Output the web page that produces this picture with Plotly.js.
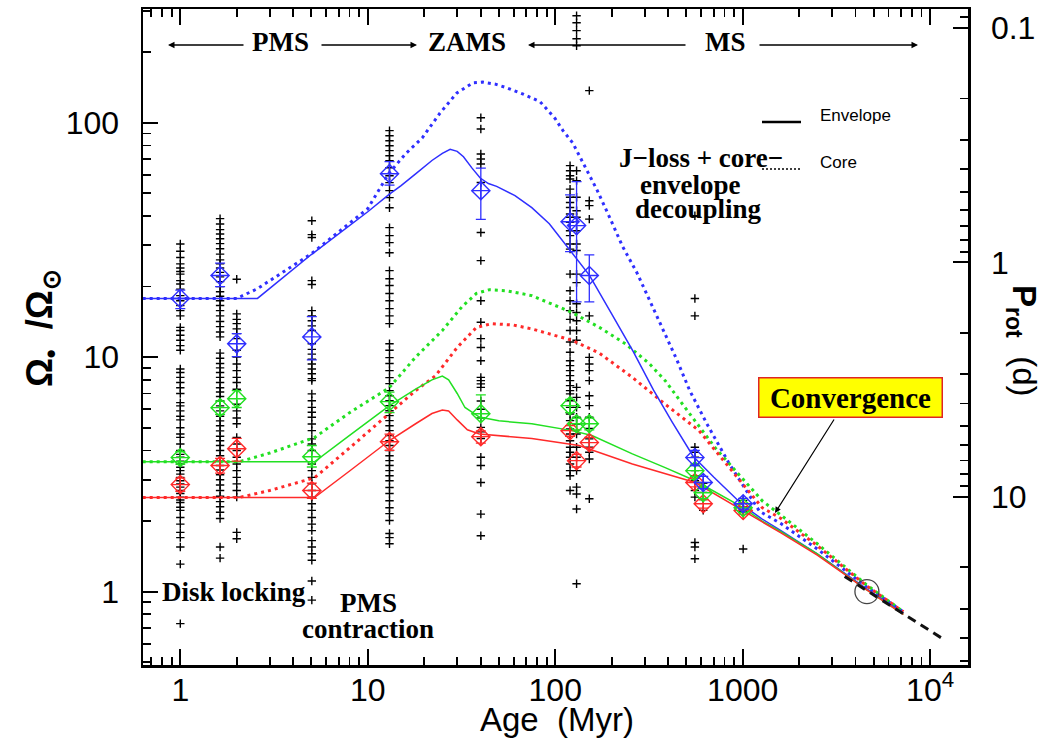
<!DOCTYPE html>
<html><head><meta charset="utf-8">
<script src="https://cdn.plot.ly/plotly-3.0.1.min.js"></script>
<style>html,body{margin:0;padding:0;background:#fff;}#chart{width:1057px;height:747px;}</style>
</head><body><div id="chart"></div>
<script>
// ---------------- data ----------------
// cluster ages (Myr) for the individual stars (crosses)
const crossAges = [1, 1.63, 2.0, 5.03, 13.06, 40.1, 120, 130, 152, 556, 616, 1006];
const cross_1 = [30.4, 28.3, 26.6, 25, 24, 23.2, 22.6, 21.2, 20.5, 19.5, 18.3, 17.4, 16.6, 15.8, 15.0, 13.4, 13.0, 12.4, 11.8, 11.2, 10.7, 8.9, 8.6, 8.2, 7.8, 7.4, 7.0, 6.4, 6.2, 5.9, 5.6, 5.4, 5.0, 4.7, 4.55, 4.26, 4.0, 3.85, 3.74, 3.6, 3.5, 3.39, 3.28, 3.17, 3.07, 2.97, 2.88, 2.79, 2.70, 2.62, 2.53, 2.46, 2.40, 2.29, 2.22, 2.07, 1.94, 1.79, 1.70, 1.55, 1.31, 0.73];
const cross_1p6 = [39, 37, 35, 33.5, 32, 30.5, 29, 27.5, 26, 25, 24, 23, 22, 21, 20, 19, 18.2, 17.4, 16.6, 15.8, 15, 14.2, 13.5, 12.8, 12.2, 10.4, 9.9, 9.4, 9.0, 8.6, 8.2, 7.8, 7.4, 7.1, 6.8, 6.5, 6.2, 5.9, 5.6, 5.35, 5.1, 4.85, 4.6, 4.4, 4.2, 4.0, 3.8, 3.6, 3.45, 3.3, 3.15, 3.0, 2.85, 2.7, 2.55, 2.42, 2.3, 2.18, 2.05, 1.55, 1.39];
const cross_2 = [21.5, 15.3, 14.5, 13.9, 13.2, 12.6, 12.0, 10.7, 10.0, 9.35, 8.76, 8.2, 7.8, 7.3, 6.3, 5.9, 5.5, 5.2, 4.55, 4.26, 4.0, 3.74, 3.5, 3.28, 3.07, 2.88, 2.70, 2.53, 1.79, 1.68];
const cross_5 = [38.2, 33.3, 32.4, 21.2, 20.4, 15.8, 15.0, 14.3, 13.6, 13.0, 11.4, 10.8, 10.3, 9.8, 9.35, 8.9, 8.5, 8.1, 7.94, 6.97, 6.52, 6.11, 5.82, 5.54, 5.19, 4.86, 4.48, 4.26, 4.0, 3.5, 3.28, 3.07, 2.88, 2.70, 2.53, 2.37, 2.22, 2.07, 1.94, 1.82, 1.65, 1.55, 1.45, 1.36, 1.11, 0.92];
const cross_13 = [92.5, 88, 83.8, 79.8, 76, 72.3, 68.9, 64.3, 59.4, 55.5, 51.3, 47.9, 43.4, 35.7, 33, 30.8, 27.9, 23.4, 21.6, 20.2, 18.7, 17.4, 16.1, 15.0, 13.9, 11.4, 10.7, 9.95, 9.4, 8.76, 8.18, 7.71, 7.2, 6.85, 6.52, 6.21, 5.91, 5.63, 5.36, 5.1, 4.86, 4.63, 4.4, 4.2, 4.0, 3.8, 3.62, 3.45, 3.28, 3.12, 2.97, 2.78, 2.62, 2.44, 2.28, 2.15, 2.01, 1.77, 1.70, 1.60];
const cross_40 = [105, 94, 73.5, 70, 66.7, 55.6, 34, 25.8, 17.4, 14.1, 12.0, 11.0, 9.66, 8.2, 7.94, 7.69, 7.43, 6.5, 6.0, 5.5, 5.02, 4.8, 4.5, 3.74, 3.45, 2.92, 2.14, 1.73];
const cross_120 = [65.6, 62.4, 59.4, 57.5, 52.1, 48.1, 45.7, 43.5, 40.8, 39.5, 37.6, 34.6, 33, 30.4, 28.9, 22.6, 19.2, 17.4, 15.8, 14.5, 13.0, 11.6, 10.5, 9.66, 9.2, 8.76, 8.34, 7.94, 7.56, 7.2, 6.97, 6.52, 6.11, 5.72, 5.36, 4.94, 4.70, 4.4, 4.13, 3.93, 3.74, 3.5, 3.28, 3.12, 2.70];
const cross_130 = [286, 267, 247, 228, 213, 62.4, 56.6, 48.1, 42.1, 39.5, 34.6, 30.4, 28.5, 22.6, 20.8, 16.9, 15.5, 14.3, 13.0, 11.8, 7.43, 6.74, 6.11, 5.54, 5.19, 4.70, 4.13, 3.74, 3.28, 2.79, 2.61, 2.25, 1.08];
const cross_150 = [137, 46.5, 44.3, 38.8, 15.0, 9.98, 9.35, 8.76, 7.94, 6.85, 6.21, 5.54, 4.97, 4.48, 4.13, 3.93, 3.68, 2.49];
const cross_550 = [40.1, 17.8, 15.0, 4.13, 3.93, 3.74, 3.5, 3.28, 3.12, 2.97, 2.70, 2.53, 1.62, 1.55, 1.38];
const cross_600 = [2.9, 2.65, 2.47, 2.22];
const cross_1000 = [2.45, 2.3, 2.2, 1.52];
const crossSets = [cross_1, cross_1p6, cross_2, cross_5, cross_13, cross_40, cross_120, cross_130, cross_150, cross_550, cross_600, cross_1000];

// percentile diamonds (90th = blue, median = green, 25th = red)
const pctAges = [1, 1.63, 2.0, 5.03, 13.06, 40.1, 120, 130, 152, 556, 616, 1006];
const blueOm = [17.8, 22.3, 11.4, 12.2, 60.6, 51.3, 37.8, 36.4, 22.3, 3.73, 2.92, 2.37];
const blueHi = [19.3, 25.2, 12.6, 14.9, 68.2, 64, 49.2, 56.1, 27.3, 4.0, 3.1, 2.5];
const blueLo = [16.1, 20.0, 10.05, 9.73, 54.2, 38.7, 28.2, 17.2, 17.2, 3.45, 2.75, 2.25];
const greenOm = [3.73, 6.09, 6.65, 3.76, 6.46, 5.74, 6.21, 5.2, 5.2, 3.28, 2.64, 2.28];
const greenHi = [3.95, 6.5, 7.2, 4.2, 7.1, 6.9, 6.6, 5.5, 5.5, 3.45, 2.78, 2.38];
const greenLo = [3.5, 5.7, 6.1, 3.4, 5.8, 5.5, 5.8, 4.9, 4.9, 3.1, 2.5, 2.18];
const redOm = [2.86, 3.45, 4.07, 2.70, 4.36, 4.58, 4.86, 3.62, 4.32, 2.92, 2.37, 2.22];
const redHi = [3.05, 3.7, 4.5, 2.9, 4.7, 4.85, 5.1, 3.85, 4.55, 3.05, 2.47, 2.3];
const redLo = [2.68, 3.2, 3.6, 2.5, 4.0, 4.3, 4.6, 3.4, 4.1, 2.8, 2.27, 2.14];

// model curves: envelope (solid) and core (dotted)
const blueEnvAge = [0.63, 2.58, 5, 10, 13, 15, 18, 22, 25, 27.5, 30, 32.4, 36, 39.8, 44, 48.7, 61, 75, 93, 113, 130, 152, 200, 260, 334, 420, 545, 700, 1006, 1271, 1600, 2500, 4570, 7200];
const blueEnvOm = [17.8, 17.8, 27.4, 41.7, 49.5, 53.8, 60.5, 69, 74, 77, 75.5, 71.6, 64, 58.1, 55, 53.5, 48.9, 43.4, 37.1, 30.5, 26.5, 22.4, 15.3, 10.6, 7.25, 5.3, 3.77, 3.08, 2.33, 2.04, 1.82, 1.45, 1.03, 0.81];
const blueCoreAge = [0.63, 2.0, 2.58, 5, 10, 13, 16, 19.5, 24.3, 29.9, 36.5, 41, 48, 55, 68, 83, 100, 110, 124, 135, 150, 167, 195, 229, 273, 318, 377, 444, 522, 644, 850, 1230, 1600, 2500, 4570, 7200];
const blueCoreOm = [17.8, 17.8, 19.6, 27.6, 43, 61, 74, 86, 110, 134, 148, 149, 146, 141, 132, 123, 104, 92.5, 82, 71.6, 61, 51.7, 39.5, 29.6, 22.9, 17.5, 13.1, 9.8, 7.2, 5.2, 3.5, 2.2, 1.95, 1.52, 1.05, 0.82];
const greenEnvAge = [0.63, 5.2, 8, 13, 18, 22, 25, 27, 30, 33, 39.4, 50, 75, 123, 157, 258, 386, 558, 1006, 1271, 1600, 2500, 4570, 7200];
const greenEnvOm = [3.58, 3.58, 4.64, 6.2, 7.3, 8.0, 8.3, 8.0, 7.0, 6.1, 5.55, 5.35, 5.2, 4.86, 4.63, 3.87, 3.38, 2.97, 2.28, 2.0, 1.8, 1.45, 1.02, 0.8];
const greenCoreAge = [0.63, 2.06, 3, 5.2, 8, 13, 18, 25, 32, 38, 44.5, 55, 75, 123, 172, 237, 317, 386, 500, 715, 1000, 1271, 1600, 2500, 4570, 7200];
const greenCoreOm = [3.58, 3.58, 3.9, 4.54, 5.8, 7.4, 10, 13, 16.5, 18.7, 19.4, 19.2, 18.3, 15.5, 13.4, 11.4, 9.4, 7.94, 6.0, 4.1, 3.03, 2.44, 2.12, 1.6, 1.07, 0.82];
const redEnvAge = [0.63, 5.2, 8, 13, 18, 22, 25, 27, 30, 34, 39.4, 75, 134, 258, 558, 1006, 1271, 1600, 2500, 4570, 7200];
const redEnvOm = [2.52, 2.52, 3.27, 4.4, 5.2, 5.75, 5.95, 5.9, 5.4, 4.9, 4.7, 4.5, 4.2, 3.5, 2.92, 2.22, 1.98, 1.78, 1.43, 1.02, 0.8];
const redCoreAge = [0.63, 2.06, 3, 5.2, 8, 13, 18, 23, 30, 38, 46, 60, 75, 123, 172, 258, 386, 585, 1000, 1271, 1600, 2500, 4570, 7200];
const redCoreOm = [2.52, 2.52, 2.7, 3.06, 4.1, 5.74, 7.2, 8.34, 11, 13.4, 13.9, 13.7, 13.2, 11.8, 10.4, 8.2, 6.3, 4.86, 2.88, 2.28, 2.05, 1.57, 1.06, 0.82];
const extAge = [3500, 11500];
const extOm = [1.16, 0.634];
const sunAge = [4600];
const sunOm = [1.0];

// axis ticks
const xTickVals = [1, 10, 100, 1000, 10000];
const xTickText = ['1', '10', '100', '1000', '10<sup>4</sup>'];
const yTickVals = [1, 10, 100];
const yTickText = ['1', '10', '100'];
const pTickVals = [0.1, 1, 10];
const pTickText = ['0.1', '1', '10'];
const P_SUN = 25.38; // Prot(d) = P_SUN / (Omega/Omega_sun)

// ---------------- layout geometry ----------------
const W = 1057, H = 747, ML = 143, MR = 89, MT = 9, MB = 82;
const PW = W - ML - MR, PH = H - MT - MB;
const X_RANGE = [-0.199, 4.202];
const Y_RANGE = [-0.313, 2.485];
const P_RANGE = [Math.log10(P_SUN) - Y_RANGE[0], Math.log10(P_SUN) - Y_RANGE[1]];
const fx = p => (p - ML) / PW;
const fy = p => (H - MB - p) / PH;

function minorTicks(lo, hi) {
  const out = [];
  for (let e = -2; e <= 5; e++) for (let d = 2; d <= 9; d++) {
    const v = +(d * Math.pow(10, e)).toPrecision(3);
    if (v > lo && v < hi) out.push(v);
  }
  return out;
}

const SANS = 'Liberation Sans, Arial, sans-serif';
const SERIF = 'Liberation Serif, Times New Roman, serif';
const BLUE = '#2f2fff', GREEN = '#22e022', RED = '#ff2a2a';

// ---------------- traces ----------------
const traces = [];
const cx = [], cy = [];
crossSets.forEach((set, i) => set.forEach(v => { cx.push(crossAges[i]); cy.push(v); }));
traces.push({x: cx, y: cy, mode: 'markers', type: 'scatter',
  marker: {symbol: 'cross-thin', size: 6, line: {color: '#000', width: 1.4}}, hoverinfo: 'skip'});

function curve(ax, ay, color, dotted) {
  return {x: ax, y: ay, mode: 'lines', type: 'scatter', hoverinfo: 'skip',
    line: dotted ? {color: color, width: 3, dash: '3px,4px'} : {color: color, width: 1.5}};
}
traces.push(curve(blueCoreAge, blueCoreOm, BLUE, true));
traces.push(curve(greenCoreAge, greenCoreOm, GREEN, true));
traces.push(curve(redCoreAge, redCoreOm, RED, true));
traces.push(curve(blueEnvAge, blueEnvOm, BLUE, false));
traces.push(curve(greenEnvAge, greenEnvOm, GREEN, false));
traces.push(curve(redEnvAge, redEnvOm, RED, false));
traces.push({x: extAge, y: extOm, mode: 'lines', type: 'scatter', hoverinfo: 'skip',
  line: {color: '#111', width: 3, dash: '9px,6px'}});

function pct(om, hi, lo, color) {
  return {x: pctAges, y: om, mode: 'markers', type: 'scatter', hoverinfo: 'skip',
    marker: {symbol: 'diamond-cross-open', size: 14, color: color, line: {color: color, width: 1.4}},
    error_y: {type: 'data', symmetric: false, array: hi.map((h, i) => h - om[i]),
      arrayminus: lo.map((l, i) => om[i] - l), color: color, thickness: 1.3, width: 5}};
}
traces.push(pct(redOm, redHi, redLo, RED));
traces.push(pct(greenOm, greenHi, greenLo, GREEN));
traces.push(pct(blueOm, blueHi, blueLo, BLUE));
traces.push({x: sunAge, y: sunOm, mode: 'markers', type: 'scatter', hoverinfo: 'skip',
  marker: {symbol: 'circle-open', size: 24, color: '#444', line: {color: '#444', width: 1.3}}});

// dummy traces so overlay axes (minor ticks, period axis) are drawn
[['x2', 'y'], ['x', 'y2'], ['x', 'y3'], ['x', 'y4']].forEach(([xa, ya]) =>
  traces.push({x: [1], y: [1], xaxis: xa, yaxis: ya, mode: 'markers', type: 'scatter',
    marker: {opacity: 0}, hoverinfo: 'skip'}));

// ---------------- layout ----------------
const tickFont = {family: SANS, size: 32, color: '#000'};
const baseAx = {showgrid: false, zeroline: false, ticks: 'inside', tickcolor: '#000', tickwidth: 2};
const layout = {
  width: W, height: H, autosize: false, showlegend: false,
  margin: {l: ML, r: MR, t: MT, b: MB, pad: 0},
  paper_bgcolor: '#fff', plot_bgcolor: '#fff',
  xaxis: Object.assign({}, baseAx, {type: 'log', range: X_RANGE, tickmode: 'array',
    tickvals: xTickVals, ticktext: xTickText, ticklen: 16, showline: true, linewidth: 2.5,
    linecolor: '#000', mirror: 'ticks', tickfont: tickFont, ticklabelstandoff: -5}),
  xaxis2: Object.assign({}, baseAx, {type: 'log', range: X_RANGE, overlaying: 'x', anchor: 'y',
    tickmode: 'array', tickvals: minorTicks(0.63, 15900), ticklen: 8, tickwidth: 1.8,
    showline: false, mirror: 'ticks', showticklabels: false}),
  yaxis: Object.assign({}, baseAx, {type: 'log', range: Y_RANGE, tickmode: 'array',
    tickvals: yTickVals, ticktext: yTickText, ticklen: 15, showline: true, linewidth: 2.5,
    linecolor: '#000', tickfont: tickFont, ticklabelstandoff: 15}),
  yaxis3: Object.assign({}, baseAx, {type: 'log', range: Y_RANGE, overlaying: 'y', side: 'left',
    anchor: 'x', tickmode: 'array', tickvals: minorTicks(0.487, 305), ticklen: 8, tickwidth: 1.8,
    showline: false, showticklabels: false}),
  yaxis2: Object.assign({}, baseAx, {type: 'log', range: P_RANGE, overlaying: 'y', side: 'right',
    anchor: 'x', tickmode: 'array', tickvals: pTickVals, ticktext: pTickText, ticklen: 15,
    showline: true, linewidth: 2.5, linecolor: '#000', tickfont: tickFont, ticklabelstandoff: 14}),
  yaxis4: Object.assign({}, baseAx, {type: 'log', range: P_RANGE, overlaying: 'y', side: 'right',
    anchor: 'x', tickmode: 'array', tickvals: minorTicks(0.083, 52), ticklen: 8, tickwidth: 1.8,
    showline: false, showticklabels: false}),
  shapes: [
    {type: 'line', xref: 'paper', yref: 'paper', x0: fx(762), x1: fx(801), y0: fy(122), y1: fy(122),
      line: {color: '#000', width: 2.5}},
    {type: 'line', xref: 'paper', yref: 'paper', x0: fx(762), x1: fx(801), y0: fy(169), y1: fy(169),
      line: {color: '#000', width: 1.6, dash: '2px,2px'}}
  ],
  annotations: []
};

function txt(t, xp, yp, font, extra) {
  layout.annotations.push(Object.assign({text: t, x: fx(xp), y: fy(yp), xref: 'paper', yref: 'paper',
    xanchor: 'center', yanchor: 'middle', showarrow: false, font: font}, extra || {}));
}
function arrow(hx, hy, tx, ty, w) {
  layout.annotations.push({text: '', x: fx(hx), y: fy(hy), xref: 'paper', yref: 'paper',
    ax: tx - hx, ay: ty - hy, axref: 'pixel', ayref: 'pixel', showarrow: true,
    arrowhead: 2, arrowsize: 1, arrowwidth: w || 1.3, arrowcolor: '#000', standoff: 0, startstandoff: 0});
}
const serif = {family: SERIF, size: 27, color: '#000'};
txt('<b>PMS</b>', 280, 42, serif);
txt('<b>ZAMS</b>', 467, 42, serif);
txt('<b>MS</b>', 725, 42, serif);
arrow(168, 45, 245, 45);
arrow(417, 45, 320, 45);
arrow(528, 45, 687, 45);
arrow(918, 45, 758, 45);
txt('<b>J\u2212loss + core\u2212</b>', 701, 158, serif);
txt('<b>envelope</b>', 690, 185, serif);
txt('<b>decoupling</b>', 698, 209, serif);
txt('<b>Disk locking</b>', 234, 592, serif);
txt('<b>PMS</b>', 368, 603, serif);
txt('<b>contraction</b>', 368, 629, serif);
txt('<b>Convergence</b>', 850, 397, {family: SERIF, size: 29, color: '#000'},
  {bgcolor: '#ffff00', bordercolor: '#e02424', borderwidth: 1.5, width: 180, height: 36});
arrow(775, 513, 835, 418, 1.2);
txt('Envelope', 818, 115, {family: SANS, size: 17, color: '#000'}, {xanchor: 'left'});
txt('Core', 818, 162, {family: SANS, size: 17, color: '#000'}, {xanchor: 'left'});
txt('Age\u00a0 (Myr)', 557, 720, {family: SANS, size: 33, color: '#000'});
txt('<b>Ω<sub>•</sub>\u00a0\u00a0/Ω<sub>⊙</sub></b>', 42, 328, {family: SANS, size: 36, color: '#000'}, {textangle: -90});
txt('<b>P<sub>rot</sub></b>\u00a0\u00a0(d)', 1022, 340, {family: SANS, size: 33, color: '#000'}, {textangle: 90});

Plotly.newPlot('chart', traces, layout, {staticPlot: true, displayModeBar: false});
</script>
</body></html>
